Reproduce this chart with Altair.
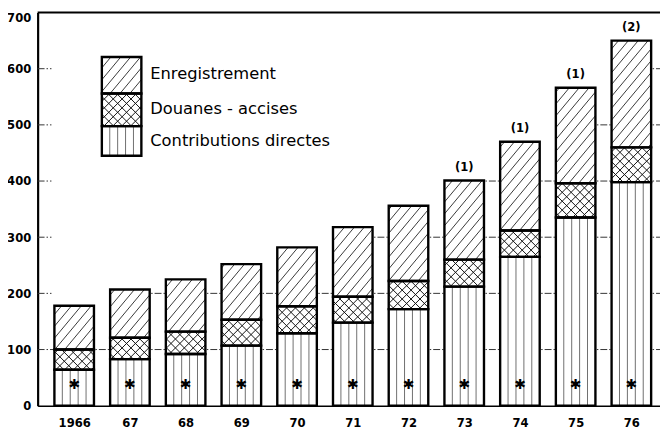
import math
import altair as alt
import pandas as pd

# ---------------- data ----------------
years = ["1966", "67", "68", "69", "70", "71", "72", "73", "74", "75", "76"]
contributions = [64, 83, 92, 107, 129, 148, 172, 212, 265, 335, 398]
douanes = [36, 38, 40, 46, 48, 46, 50, 48, 47, 61, 62]
enregistrement = [78, 86, 93, 99, 105, 124, 134, 141, 158, 170, 190]
notes = ["", "", "", "", "", "", "", "(1)", "(1)", "(1)", "(2)"]
series_names = ["Enregistrement", "Douanes - accises", "Contributions directes"]
y_ticks = [0, 100, 200, 300, 400, 500, 600, 700]
grid_levels = [100, 200, 300, 400, 500, 600]

# ---------------- layout ----------------
W, H = 630, 398
XMIN, XMAX = -0.656, 10.514
YMAX = 700
SX = W / (XMAX - XMIN)
SY = H / YMAX
HALF = 0.355
ASTERISK_Y = 36
NUMFONT = "DejaVu Sans Condensed"
TXTFONT = "DejaVu Sans"

def to_px(x, y):
    return (x - XMIN) * SX, y * SY

def to_data(px, py):
    return XMIN + px / SX, py / SY

n = len(years)
totals = [contributions[i] + douanes[i] + enregistrement[i] for i in range(n)]

# rectangles (bars) ----------------------------------------------------
rects = []
for i in range(n):
    base = 0
    for val, pat in ((contributions[i], "vert"), (douanes[i], "cross"), (enregistrement[i], "diag")):
        rects.append(dict(x=i - HALF, x2=i + HALF, y=base, y2=base + val, pat=pat))
        base += val

# legend boxes (pixel layout, converted to data space)
LEG_X0, LEG_X1 = 65, 105          # px from plot left
LEG_Y = [353, 316, 283, 253]       # px above baseline
lx0, _ = to_data(LEG_X0, 0)
lx1, _ = to_data(LEG_X1, 0)
for k, pat in enumerate(["diag", "cross", "vert"]):
    rects.append(dict(x=lx0, x2=lx1, y=LEG_Y[k + 1] / SY, y2=LEG_Y[k] / SY, pat=pat))
rect_df = pd.DataFrame(rects)

# hatching ---------------------------------------------------------------
def clip_line(px, py, dx, dy, x0, x1, y0, y1):
    tmin, tmax = -1e9, 1e9
    for p, d, lo, hi in ((px, dx, x0, x1), (py, dy, y0, y1)):
        if abs(d) < 1e-12:
            if p < lo or p > hi:
                return None
        else:
            t1, t2 = (lo - p) / d, (hi - p) / d
            if t1 > t2:
                t1, t2 = t2, t1
            tmin, tmax = max(tmin, t1), min(tmax, t2)
    if tmax - tmin <= 0.5:
        return None
    return (px + tmin * dx, py + tmin * dy, px + tmax * dx, py + tmax * dy)

hatch = []
STYLE = {"vert": ("#6f6f6f", 1.0), "diag": ("#222222", 0.9), "cross": ("#111111", 1.0)}
for r in rects:
    X0, Y0 = to_px(r["x"], r["y"])
    X1, Y1 = to_px(r["x2"], r["y2"])
    col, w = STYLE[r["pat"]]
    segs = []
    if r["pat"] == "vert":
        for k in range(1, 5):
            xx = X0 + k * (X1 - X0) / 5
            segs.append((xx, Y0, xx, Y1))
    else:
        if r["pat"] == "diag":
            dirs, step = [(1.0, 1.2)], 10.0
        else:
            dirs, step = [(1.0, 1.0), (1.0, -1.0)], 9.0
        for dx, dy in dirs:
            s = abs(dy / dx)
            kmin = int(math.floor((X0 - Y1 / s) / step)) - 2
            kmax = int(math.ceil((X1 + Y1 / s) / step)) + 2
            for k in range(kmin, kmax + 1):
                seg = clip_line(k * step, 0.0, dx, dy, X0, X1, Y0, Y1)
                if seg:
                    segs.append(seg)
    for a, b, c, d in segs:
        xa, ya = to_data(a, b)
        xb, yb = to_data(c, d)
        hatch.append(dict(x=xa, y=ya, x2=xb, y2=yb, col=col, w=w))
hatch_df = pd.DataFrame(hatch)

# grid segments ----------------------------------------------------------
grid = []
tick_len = 14 / SX
for L in grid_levels:
    grid.append(dict(x=XMIN, x2=(0 if totals[0] >= L else XMIN + tick_len), y=L))
    for i in range(n - 1):
        if min(totals[i], totals[i + 1]) >= L:
            grid.append(dict(x=i, x2=i + 1, y=L))
    if totals[-1] >= L:
        grid.append(dict(x=n - 1, x2=XMAX, y=L))
grid_df = pd.DataFrame(grid)

# texts -------------------------------------------------------------------
bars_df = pd.DataFrame(dict(i=list(range(n)), total=totals, note=notes))
bars_df["ast"] = ASTERISK_Y
TXT_X = to_data(114, 0)[0]
legend_txt = pd.DataFrame(dict(
    x=[TXT_X] * 3,
    y=[336 / SY, 300 / SY, 268 / SY],
    label=series_names,
))

# ---------------- chart ----------------
xscale = alt.Scale(domain=[XMIN, XMAX], nice=False, zero=False)
yscale = alt.Scale(domain=[0, YMAX], nice=False)
label_expr = "[" + ",".join("'%s'" % y for y in years) + "][datum.value]"
xaxis = alt.Axis(values=list(range(n)), labelExpr=label_expr, ticks=False, grid=False,
                 domain=True, domainColor="black", domainWidth=1.6, labelFont=NUMFONT,
                 labelFontSize=13, labelFontWeight="bold", labelColor="black",
                 labelPadding=11, title=None)
yaxis = alt.Axis(values=y_ticks, ticks=False, grid=False, domain=True, domainColor="black",
                 domainWidth=2.2, labelFont=NUMFONT, labelFontSize=13, labelFontWeight="bold",
                 labelColor="black", labelPadding=7, title=None,
                 labelOffset={"condition": {"test": "datum.value == %d" % YMAX, "value": 5},
                              "value": 0})

def X(f="x", **kw):
    return alt.X(f + ":Q", scale=xscale, axis=xaxis, **kw)

def Y(f="y", **kw):
    return alt.Y(f + ":Q", scale=yscale, axis=yaxis, **kw)

grid_layer = alt.Chart(grid_df).mark_rule(color="#333333", strokeWidth=1,
                                           strokeDash=[7, 2, 1.5, 2]).encode(
    x=X(), x2="x2:Q", y=Y())

fill_layer = alt.Chart(rect_df).mark_rect(fill="white", stroke=None).encode(
    x=X(), x2="x2:Q", y=Y(), y2="y2:Q")

hatch_layer = alt.Chart(hatch_df).mark_rule().encode(
    x=X(), x2="x2:Q", y=Y(), y2="y2:Q",
    color=alt.Color("col:N", scale=None),
    strokeWidth=alt.StrokeWidth("w:Q", scale=None))

outline_layer = alt.Chart(rect_df).mark_rect(fillOpacity=0, stroke="black",
                                              strokeWidth=2.4).encode(
    x=X(), x2="x2:Q", y=Y(), y2="y2:Q")

ast_layer = alt.Chart(bars_df).mark_text(text="✱", font="DejaVu Sans", fontSize=14,
                                          fontWeight="bold", color="black",
                                          baseline="middle").encode(
    x=X("i"), y=Y("ast"))

note_layer = alt.Chart(bars_df).mark_text(font=NUMFONT, fontSize=13, fontWeight="bold",
                                           color="black", baseline="middle", dy=-14).encode(
    x=X("i"), y=Y("total"), text="note:N")

legend_layer = alt.Chart(legend_txt).mark_text(font=TXTFONT, fontSize=16.5, color="black",
                                                align="left", baseline="middle").encode(
    x=X(), y=Y(), text="label:N")

top_layer = alt.Chart(pd.DataFrame(dict(x=[XMIN], x2=[XMAX], y=[YMAX]))).mark_rule(
    color="black", strokeWidth=2).encode(x=X(), x2="x2:Q", y=Y())

chart = alt.layer(
    grid_layer, fill_layer, hatch_layer, outline_layer,
    ast_layer, note_layer, legend_layer, top_layer
).properties(
    width=W, height=H,
    autosize=alt.AutoSizeParams(type="none"),
    padding={"left": 30, "top": 2, "right": 0, "bottom": 22},
    background="white",
).configure_view(stroke=None)

chart.save("out.html", embed_options={"renderer": "svg", "actions": False})
